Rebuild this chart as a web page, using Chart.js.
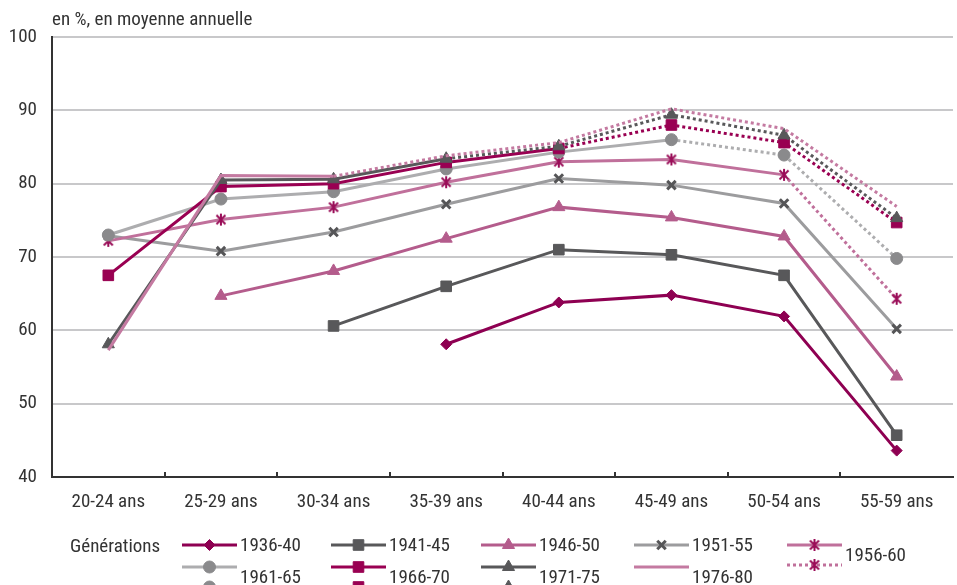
<!DOCTYPE html>
<html><head><meta charset="utf-8">
<script src="https://cdn.jsdelivr.net/npm/chart.js@4/dist/chart.umd.min.js"></script>
<style>
html,body{margin:0;padding:0;background:#fff;overflow:hidden;width:957px;height:585px}
#wrap{position:relative;width:957px;height:585px;overflow:hidden}
canvas{position:absolute;left:0;top:0}
</style></head>
<body><div id="wrap"><canvas id="c" width="962" height="585"></canvas></div>
<script>
// ---- data ----
const categories = ['20-24 ans','25-29 ans','30-34 ans','35-39 ans','40-44 ans','45-49 ans','50-54 ans','55-59 ans'];
const yTicks = [40,50,60,70,80,90,100];
const generations = ['1936-40','1941-45','1946-50','1951-55','1956-60','1961-65','1966-70','1971-75','1976-80'];
const g1936_40 = [null,null,null,58.1,63.8,64.8,61.9,43.6];
const g1941_45 = [null,null,60.6,66.0,71.0,70.3,67.5,45.7];
const g1946_50 = [null,64.7,68.1,72.5,76.8,75.4,72.8,53.7];
const g1951_55 = [72.9,70.8,73.4,77.2,80.7,79.8,77.3,60.2];
const g1956_60 = [72.2,75.1,76.8,80.2,83.0,83.3,81.2,64.3];
const g1961_65 = [73.0,77.9,78.9,82.0,84.3,86.0,83.9,69.8];
const g1966_70 = [67.5,79.6,80.0,82.9,84.8,88.0,85.6,74.7];
const g1971_75 = [58.1,80.5,80.6,83.4,85.1,89.4,86.6,75.3];
const g1976_80 = [57.3,81.1,81.0,83.8,85.6,90.2,87.5,76.9];
// index of the last observed point (later segments are projections, dotted)
const lastObserved = [7,7,7,7,6,5,4,3,2];
const seriesValues = [g1936_40,g1941_45,g1946_50,g1951_55,g1956_60,g1961_65,g1966_70,g1971_75,g1976_80];

// ---- styles ----
const FONT = "'Liberation Sans Narrow','Arial Narrow','Roboto Condensed',Roboto,sans-serif";
const TXT = '#333333';
function asteriskCanvas(color){
  const c = document.createElement('canvas'); c.width = 14; c.height = 14;
  const x = c.getContext('2d'); x.strokeStyle = color; x.lineWidth = 2;
  x.beginPath();
  x.moveTo(2.5,2.5); x.lineTo(11.5,11.5);
  x.moveTo(11.5,2.5); x.lineTo(2.5,11.5);
  x.moveTo(7,1); x.lineTo(7,13);
  x.stroke();
  return c;
}
const styles = [
  {line:'#8E0052', mark:'#8E0052', ps:'rectRot', r:5.5, bw:1},
  {line:'#58585A', mark:'#58585A', ps:'rect', r:7.5, bw:1},
  {line:'#B45C8C', mark:'#B45C8C', ps:'triangle', r:7, bw:1},
  {line:'#9C9C9E', mark:'#555557', ps:'crossRot', r:6, bw:3},
  {line:'#C0709B', mark:'#9A0D58', ps:asteriskCanvas('#9A0D58'), r:7, bw:1},
  {line:'#ADADAF', mark:'#8A8A8C', ps:'circle', r:6, bw:1},
  {line:'#990052', mark:'#990052', ps:'rect', r:7.5, bw:1},
  {line:'#58585A', mark:'#58585A', ps:'triangle', r:7, bw:1},
  {line:'#C47AA1', mark:'#C47AA1', ps:false, r:0, bw:1}
];
const DOT = [3,3];

const datasets = seriesValues.map((vals,i)=>{
  const s = styles[i];
  return {
    label: generations[i],
    data: vals,
    borderColor: s.line,
    backgroundColor: s.mark,
    pointBackgroundColor: s.mark,
    pointBorderColor: s.mark,
    pointStyle: s.ps,
    pointRadius: s.ps ? s.r : 0,
    pointBorderWidth: s.bw,
    borderWidth: 3,
    borderCapStyle: 'butt',
    tension: 0,
    spanGaps: false,
    order: 9 - i,
    segment: { borderDash: ctx => ctx.p0DataIndex >= lastObserved[i] ? DOT : undefined }
  };
});

function drawMarker(ctx, s, x, y){
  if(!s.ps) return;
  ctx.save();
  ctx.fillStyle = s.mark; ctx.strokeStyle = s.mark; ctx.lineWidth = s.bw;
  if (s.ps instanceof HTMLCanvasElement){
    ctx.drawImage(s.ps, x - s.ps.width/2, y - s.ps.height/2);
  } else if (Chart.helpers && Chart.helpers.drawPoint){
    Chart.helpers.drawPoint(ctx, {pointStyle:s.ps, radius:s.r, rotation:0, borderWidth:s.bw}, x, y);
  }
  ctx.restore();
}

const decor = {
  id:'decor',
  beforeDatasetsDraw(chart){
    const {ctx, chartArea, scales} = chart;
    const xs = scales.x;
    ctx.save();
    ctx.strokeStyle = '#333'; ctx.lineWidth = 2;
    for(let i=1;i<categories.length;i++){
      const bx = Math.round((xs.getPixelForValue(i-1)+xs.getPixelForValue(i))/2);
      ctx.beginPath(); ctx.moveTo(bx, chartArea.bottom); ctx.lineTo(bx, chartArea.bottom-5); ctx.stroke();
    }
    ctx.restore();
  },
  afterDraw(chart){
    const {ctx} = chart;
    ctx.save();
    ctx.fillStyle = TXT;
    ctx.font = '19px ' + FONT;
    ctx.textAlign = 'left'; ctx.textBaseline = 'alphabetic';
    ctx.fillText('en %, en moyenne annuelle', 52, 25);
    // legend
    ctx.textBaseline = 'middle';
    ctx.fillText('Générations', 70, 547);
    const cols = [182, 331, 481, 634, 787];
    const rows = [545, 567];
    generations.forEach((g,k)=>{
      const s = styles[k];
      const x0 = cols[k%5], y0 = rows[Math.floor(k/5)];
      const hasProj = lastObserved[k] < categories.length-1;
      ctx.lineWidth = 3; ctx.strokeStyle = s.line; ctx.lineCap = 'butt';
      ctx.setLineDash([]);
      ctx.beginPath(); ctx.moveTo(x0, y0); ctx.lineTo(x0+55, y0); ctx.stroke();
      drawMarker(ctx, s, x0+27.5, y0);
      let ty = y0 + 1;
      if(hasProj){
        const y1 = y0 + 20;
        ctx.setLineDash(DOT);
        ctx.beginPath(); ctx.moveTo(x0, y1); ctx.lineTo(x0+55, y1); ctx.stroke();
        ctx.setLineDash([]);
        drawMarker(ctx, s, x0+27.5, y1);
        ty = y0 + 11;
      }
      ctx.fillStyle = TXT;
      ctx.fillText(g, x0+58, ty);
    });
    ctx.restore();
  }
};

Chart.defaults.font.family = FONT;
Chart.defaults.font.size = 19;
Chart.defaults.color = TXT;

new Chart(document.getElementById('c'), {
  type:'line',
  data:{labels:categories, datasets},
  options:{
    responsive:false, animation:false, devicePixelRatio:1,
    layout:{padding:{top:37, right:0, bottom:68, left:0}},
    plugins:{legend:{display:false}, tooltip:{enabled:false}, title:{display:false}},
    elements:{line:{borderJoinStyle:'miter'}},
    scales:{
      x:{
        offset:true,
        grid:{display:false},
        border:{display:true, color:'#333', width:2},
        ticks:{padding:6, color:TXT, font:{size:19, family:FONT}, maxRotation:0, autoSkip:false},
        afterFit(s){ s.height = 40; }
      },
      y:{
        min:40, max:100,
        afterBuildTicks(s){ s.ticks = yTicks.map(v=>({value:v})); },
        grid:{color:'#C8C8CA', lineWidth:2, drawTicks:false},
        border:{display:true, color:'#333', width:2},
        ticks:{padding:15, color:TXT, font:{size:19, family:FONT}},
        afterFit(s){ s.width = 52; }
      }
    }
  },
  plugins:[decor]
});
</script>
</body></html>
